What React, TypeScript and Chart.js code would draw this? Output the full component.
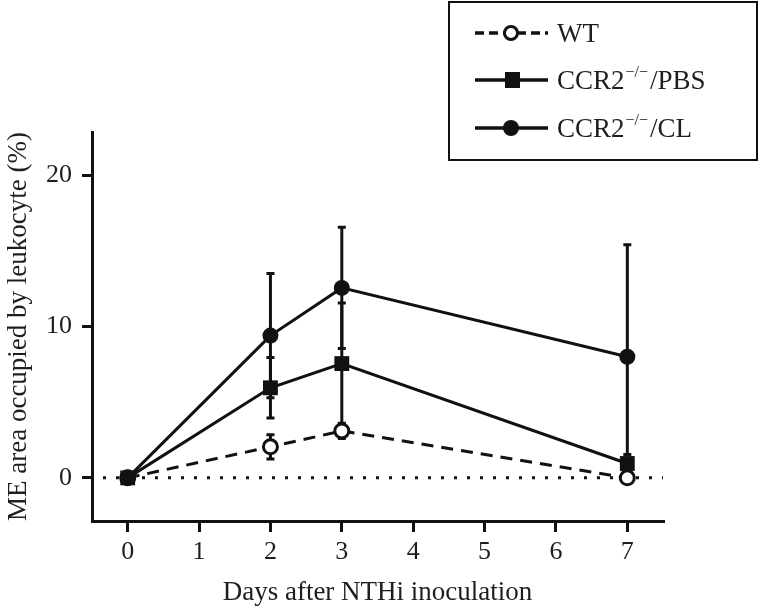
import React, { useEffect, useRef } from 'react';
import { Chart, registerables } from 'chart.js';

Chart.register(...registerables);

// ---- data ----
const days = [0, 2, 3, 7];
const xTickValues = [0, 1, 2, 3, 4, 5, 6, 7];
const yTickValues = [0, 10, 20];
const wtMean = [0, 2.05, 3.1, 0];
const wtSd = [0, 0.8, 0.5, 0.2];
const pbsMean = [0, 5.95, 7.55, 0.95];
const pbsSd = [0, 2.0, 4.0, 0.6];
const clMean = [0, 9.4, 12.55, 8.0];
const clSd = [0, 4.1, 4.0, 7.4];
const seriesLabels = ['WT', 'CCR2\u2212/\u2212/PBS', 'CCR2\u2212/\u2212/CL'];
const legendParts = [
  ['WT', '', ''],
  ['CCR2', '\u2212/\u2212', '/PBS'],
  ['CCR2', '\u2212/\u2212', '/CL'],
];
const xTitle = 'Days after NTHi inoculation';
const yTitle = 'ME area occupied by leukocyte (%)';

const INK = '#111111';
const TEXT = '#1e1e1e';
const FONT = '"Liberation Serif", "Times New Roman", Times, serif';

const zeroLinePlugin = {
  id: 'zeroLine',
  beforeDatasetsDraw(chart: any) {
    const { ctx, chartArea, scales } = chart;
    const y = scales.y.getPixelForValue(0);
    ctx.save();
    ctx.strokeStyle = INK;
    ctx.lineWidth = 3;
    ctx.setLineDash([3, 10]);
    ctx.beginPath();
    ctx.moveTo(chartArea.left + 11, y);
    ctx.lineTo(chartArea.right, y);
    ctx.stroke();
    ctx.restore();
  },
};

const errorBarPlugin = {
  id: 'errorBars',
  beforeDatasetsDraw(chart: any) {
    const { ctx, scales } = chart;
    ctx.save();
    ctx.strokeStyle = INK;
    ctx.lineWidth = 3;
    ctx.setLineDash([]);
    chart.data.datasets.forEach((ds: any) => {
      const errs: number[] = ds.errors || [];
      ds.data.forEach((pt: any, i: number) => {
        const e = errs[i];
        if (!e) return;
        const x = scales.x.getPixelForValue(pt.x);
        const yt = scales.y.getPixelForValue(pt.y + e);
        const yb = scales.y.getPixelForValue(pt.y - e);
        ctx.beginPath();
        ctx.moveTo(x, yt);
        ctx.lineTo(x, yb);
        ctx.moveTo(x - 4, yt);
        ctx.lineTo(x + 4, yt);
        ctx.moveTo(x - 4, yb);
        ctx.lineTo(x + 4, yb);
        ctx.stroke();
      });
    });
    ctx.restore();
  },
};

const legendPlugin = {
  id: 'customLegend',
  afterDraw(chart: any) {
    const { ctx } = chart;
    ctx.save();
    ctx.fillStyle = '#ffffff';
    ctx.fillRect(449, 2, 308, 158);
    ctx.strokeStyle = INK;
    ctx.lineWidth = 2;
    ctx.strokeRect(449, 2, 308, 158);
    const rows = [33, 80, 128];
    rows.forEach((y, i) => {
      ctx.strokeStyle = INK;
      ctx.fillStyle = INK;
      ctx.lineWidth = 3.5;
      if (i === 0) ctx.setLineDash([9, 5]);
      else ctx.setLineDash([]);
      ctx.beginPath();
      ctx.moveTo(475, y);
      ctx.lineTo(548, y);
      ctx.stroke();
      ctx.setLineDash([]);
      if (i === 0) {
        ctx.fillStyle = '#ffffff';
        ctx.lineWidth = 3;
        ctx.beginPath();
        ctx.arc(511, y, 6.5, 0, Math.PI * 2);
        ctx.fill();
        ctx.stroke();
      } else if (i === 1) {
        ctx.fillRect(505, y - 8, 15, 16);
      } else {
        ctx.beginPath();
        ctx.arc(511, y, 8, 0, Math.PI * 2);
        ctx.fill();
      }
      const parts = legendParts[i];
      ctx.fillStyle = TEXT;
      ctx.textBaseline = 'alphabetic';
      ctx.font = `27px ${FONT}`;
      let x = 557;
      const base = y + 9;
      ctx.fillText(parts[0], x, base);
      x += ctx.measureText(parts[0]).width;
      if (parts[1]) {
        ctx.font = `16px ${FONT}`;
        ctx.fillText(parts[1], x + 1, base - 12);
        x += ctx.measureText(parts[1]).width + 3;
        ctx.font = `27px ${FONT}`;
        ctx.fillText(parts[2], x, base);
      }
    });
    ctx.restore();
  },
};

export default function App() {
  const ref = useRef<HTMLCanvasElement | null>(null);

  useEffect(() => {
    if (!ref.current) return;
    const mk = (arr: number[]) => days.map((d, i) => ({ x: d, y: arr[i] }));
    const chart = new Chart(ref.current, {
      type: 'line',
      data: {
        datasets: [
          {
            label: seriesLabels[2],
            data: mk(clMean),
            errors: clSd,
            borderColor: INK,
            backgroundColor: INK,
            borderWidth: 3,
            pointStyle: 'circle',
            pointRadius: 8,
            pointBorderWidth: 0,
            tension: 0,
          } as any,
          {
            label: seriesLabels[1],
            data: mk(pbsMean),
            errors: pbsSd,
            borderColor: INK,
            backgroundColor: INK,
            borderWidth: 3,
            pointStyle: 'rect',
            pointRadius: 10.5,
            pointBorderWidth: 0,
            tension: 0,
          } as any,
          {
            label: seriesLabels[0],
            data: mk(wtMean),
            errors: wtSd,
            borderColor: INK,
            backgroundColor: '#ffffff',
            pointBackgroundColor: '#ffffff',
            pointBorderColor: INK,
            borderWidth: 3,
            borderDash: [12, 8],
            pointStyle: 'circle',
            pointRadius: 7,
            pointBorderWidth: 3,
            tension: 0,
          } as any,
        ],
      },
      options: {
        animation: false,
        responsive: false,
        layout: { padding: { top: 132, right: 97, left: 0, bottom: 0 } },
        plugins: { legend: { display: false }, tooltip: { enabled: false } },
        scales: {
          x: {
            type: 'linear',
            min: -0.5,
            max: 7.5,
            afterBuildTicks: (s: any) => {
              s.ticks = xTickValues.map((v) => ({ value: v }));
            },
            afterFit: (s: any) => {
              s.height = 88;
            },
            grid: { drawOnChartArea: false, drawTicks: true, tickLength: 11, lineWidth: 3, color: INK },
            border: { display: true, width: 3, color: INK },
            ticks: { color: TEXT, font: { family: FONT, size: 26 }, padding: 5, maxRotation: 0 },
            title: { display: true, text: xTitle, color: TEXT, font: { family: FONT, size: 27 }, padding: { top: 0, bottom: 0 } },
          },
          y: {
            type: 'linear',
            min: -2.85,
            max: 22.85,
            afterBuildTicks: (s: any) => {
              s.ticks = yTickValues.map((v) => ({ value: v }));
            },
            afterFit: (s: any) => {
              s.width = 92;
            },
            grid: { drawOnChartArea: false, drawTicks: true, tickLength: 10, lineWidth: 3, color: INK },
            border: { display: true, width: 3, color: INK },
            ticks: { color: TEXT, font: { family: FONT, size: 26 }, padding: 10 },
            title: { display: true, text: yTitle, color: TEXT, font: { family: FONT, size: 27 }, padding: { top: 3, bottom: 0 } },
          },
        },
      },
      plugins: [zeroLinePlugin, errorBarPlugin, legendPlugin],
    } as any);
    return () => chart.destroy();
  }, []);

  return (
    <div style={{ position: 'absolute', left: 0, top: 0, width: 760, height: 609, background: '#fff' }}>
      <canvas ref={ref} width={760} height={609} />
    </div>
  );
}
